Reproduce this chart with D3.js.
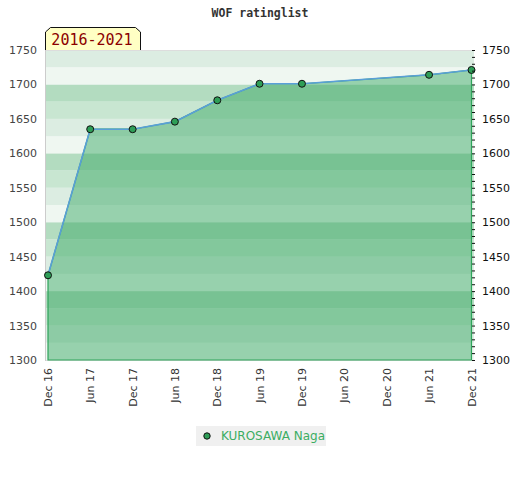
<!DOCTYPE html>
<html>
<head>
    <meta charset="UTF-8">
    <title>WOF ratinglist</title>
    <script src="https://d3js.org/d3.v7.min.js"></script>
    <style>
        body { margin: 0; background: #fff; }
        text { font-family: "DejaVu Sans", sans-serif; }
    </style>
</head>
<body>
    <script>
        // data
        const dates = ["2016-12", "2017-06", "2017-12", "2018-06", "2018-12", "2019-06", "2019-12", "2021-06", "2021-12"];
        const ratings = [1423, 1635, 1635, 1646, 1677, 1701, 1701, 1714, 1721];
        const tickDates = ["2016-12", "2017-06", "2017-12", "2018-06", "2018-12", "2019-06", "2019-12", "2020-06", "2020-12", "2021-06", "2021-12"];
        const yTicks = [1300, 1350, 1400, 1450, 1500, 1550, 1600, 1650, 1700, 1750];
        const playerName = "KUROSAWA Naga";
        const periodLabel = "2016-2021";
        const chartTitle = "WOF ratinglist";

        const width = 520, height = 480;
        const parse = d3.timeParse("%Y-%m");
        const data = dates.map((d, i) => ({ date: parse(d), value: ratings[i] }));

        const x = d3.scaleTime()
            .domain([parse(tickDates[0]), parse(tickDates[tickDates.length - 1])])
            .range([48, 471.5]);
        const y = d3.scaleLinear().domain([1300, 1750]).range([360, 50]);

        const svg = d3.select("body").append("svg")
            .attr("width", width).attr("height", height);

        svg.append("text")
            .attr("x", 260).attr("y", 17)
            .attr("text-anchor", "middle")
            .style("font-family", "'DejaVu Sans Mono', monospace")
            .style("font-weight", "bold").style("font-size", "11.5px")
            .attr("fill", "#333")
            .text(chartTitle);

        // striped background, 4 shades per 100 points
        const bandColors = ["#b3dcc0", "#c8e6d1", "#dcede2", "#eff7f1"];
        svg.append("g").selectAll("rect")
            .data(d3.range(1300, 1750, 25)).enter().append("rect")
            .attr("x", 45).attr("width", 429)
            .attr("y", d => y(d + 25)).attr("height", d => y(d) - y(d + 25))
            .attr("fill", d => bandColors[3 - ((d % 100) / 25)]);

        // frame
        svg.append("line").attr("x1", 45).attr("x2", 474).attr("y1", 50.5).attr("y2", 50.5).attr("stroke", "#ddd");
        svg.append("line").attr("x1", 45).attr("x2", 474).attr("y1", 360.5).attr("y2", 360.5).attr("stroke", "#ddd");
        svg.append("line").attr("x1", 45.5).attr("x2", 45.5).attr("y1", 50).attr("y2", 361).attr("stroke", "#ccc");

        const area = d3.area().x(d => x(d.date)).y0(y(1300)).y1(d => y(d.value));
        const line = d3.line().x(d => x(d.date)).y(d => y(d.value));

        svg.append("path").datum(data)
            .attr("d", area)
            .attr("fill", "rgb(53,166,96)").attr("fill-opacity", 0.47)
            .attr("stroke", "#2ea35a").attr("stroke-width", 1.2);

        svg.append("path").datum(data)
            .attr("d", line)
            .attr("fill", "none").attr("stroke", "#5a9fd8").attr("stroke-width", 1.6);

        svg.append("g").selectAll("circle")
            .data(data).enter().append("circle")
            .attr("cx", d => x(d.date)).attr("cy", d => y(d.value))
            .attr("r", 3.5)
            .attr("fill", "#2e9e57").attr("stroke", "#111").attr("stroke-width", 1);

        // left axis labels
        svg.append("g").selectAll("text")
            .data(yTicks).enter().append("text")
            .attr("x", 37).attr("y", d => y(d) + 4)
            .attr("text-anchor", "end")
            .style("font-size", "11px").attr("fill", "#444")
            .text(d => d);

        // right axis: minor ticks every 10, labels every 50
        const rightAxis = d3.axisRight(y)
            .tickValues(d3.range(1300, 1751, 10))
            .tickSize(3).tickPadding(7)
            .tickFormat(d => yTicks.includes(d) ? d : "");
        const rg = svg.append("g").attr("transform", "translate(472,0)").call(rightAxis);
        rg.select(".domain").remove();
        rg.selectAll(".tick line").attr("stroke", "#111");
        rg.selectAll(".tick text")
            .style("font-family", "'DejaVu Sans', sans-serif")
            .style("font-size", "11px").attr("fill", "#111");

        // bottom axis labels, rotated
        svg.append("g").selectAll("text")
            .data(tickDates).enter().append("text")
            .attr("transform", d => `translate(${x(parse(d)) + 4},368) rotate(-90)`)
            .attr("text-anchor", "end")
            .style("font-size", "11px").attr("fill", "#333")
            .text(d => d3.timeFormat("%b %y")(parse(d)));

        // period tag
        svg.append("path")
            .attr("d", "M45.5,50 L45.5,32 L50.5,27.5 L135.5,27.5 L140.5,32 L140.5,50")
            .attr("fill", "#ffffc4").attr("stroke", "#111").attr("stroke-width", 1);
        svg.append("text")
            .attr("x", 92).attr("y", 45)
            .attr("text-anchor", "middle")
            .style("font-family", "'DejaVu Sans Mono', monospace")
            .style("font-size", "15px").attr("fill", "#8b0000")
            .text(periodLabel);

        // legend
        const lg = svg.append("g").attr("transform", "translate(196,426)");
        lg.append("rect").attr("width", 130).attr("height", 20).attr("fill", "#f0f0f0");
        lg.append("circle").attr("cx", 11).attr("cy", 10).attr("r", 3.2)
            .attr("fill", "#2e9e57").attr("stroke", "#111");
        lg.append("text").attr("x", 25).attr("y", 14)
            .style("font-size", "12px").attr("fill", "#3cad62")
            .text(playerName);
    </script>
</body>
</html>
